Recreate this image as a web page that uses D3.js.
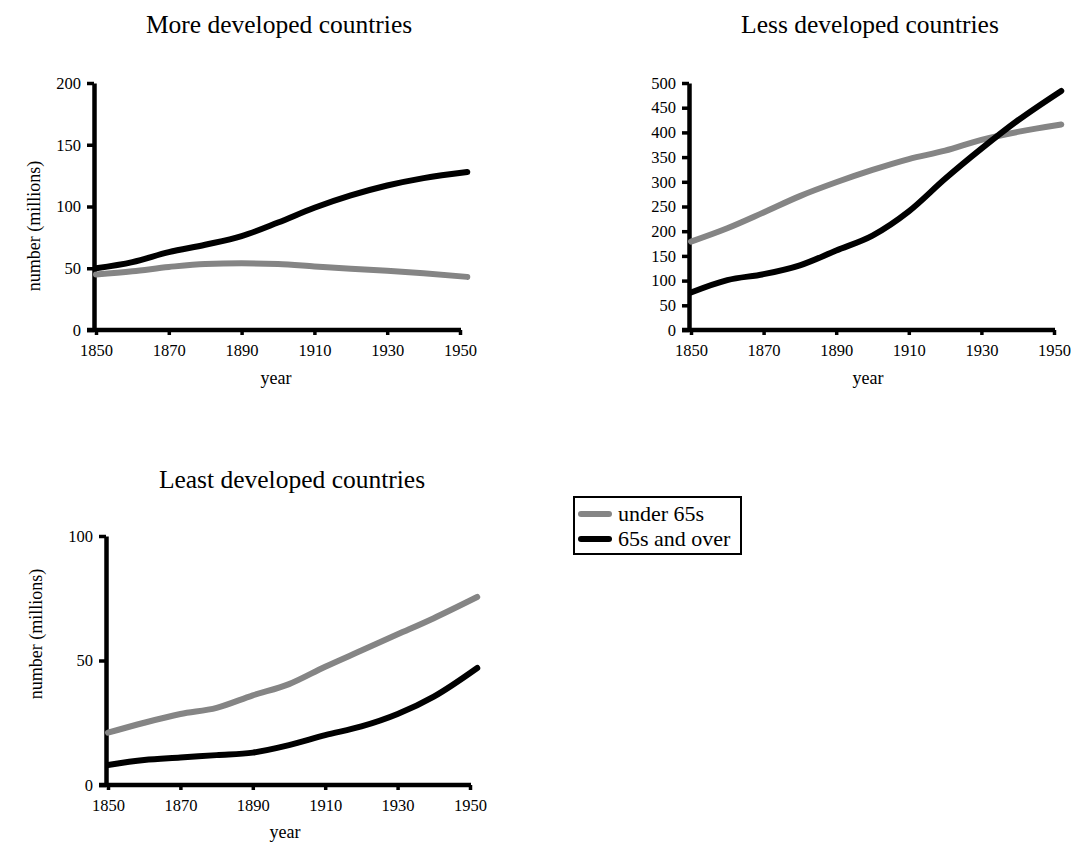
<!DOCTYPE html>
<html>
<head>
<meta charset="utf-8">
<script src="https://cdn.jsdelivr.net/npm/d3@7"></script>
<style>
  body { margin: 0; background: #fff; }
  svg { display: block; }
  text { font-family: "Liberation Serif", "Times New Roman", serif; fill: #000; }
</style>
</head>
<body>
<svg id="chart" width="1090" height="843"></svg>
<script>
// Sample years shared by all three panels
const years = [1850, 1860, 1870, 1880, 1890, 1900, 1910, 1920, 1930, 1940, 1952];
const xTicks = [1850, 1870, 1890, 1910, 1930, 1950];

// More developed countries (millions)
const moreUnder65 = [45, 47.5, 51, 53.5, 54, 53.5, 51.5, 49.5, 48, 46, 43];
const moreOver65  = [50, 55, 63, 69, 76, 87, 99, 109, 117, 123, 128];
const moreYTicks  = [0, 50, 100, 150, 200];

// Less developed countries (millions)
const lessUnder65 = [179, 206, 238, 271, 299, 324, 346, 363, 385, 401, 416];
const lessOver65  = [76, 101, 113, 131, 161, 191, 240, 306, 367, 424, 484];
const lessYTicks  = [0, 50, 100, 150, 200, 250, 300, 350, 400, 450, 500];

// Least developed countries (millions)
const leastUnder65 = [21, 25, 28.5, 31, 36, 40.5, 47.5, 54, 60.5, 67, 75.5];
const leastOver65  = [8, 10, 11, 12, 13, 16, 20, 23.5, 28.5, 35.5, 47];
const leastYTicks  = [0, 50, 100];

const seriesNames = ["under 65s", "65s and over"];
const seriesColors = ["#858585", "#000000"];

const FONT = "Liberation Serif, Times New Roman, serif";
const svg = d3.select("#chart");

function panel(cfg) {
  const x = d3.scaleLinear().domain([1850, 1950]).range([cfg.x0, cfg.x1]);
  const y = d3.scaleLinear().domain([0, cfg.yMax]).range([cfg.yBottom, cfg.yTop]);
  const g = svg.append("g");

  // panel title
  g.append("text")
    .attr("x", cfg.titleX).attr("y", cfg.titleY)
    .attr("text-anchor", "middle")
    .style("font-size", "25.5px")
    .text(cfg.title);

  // axes
  const yAxis = g.append("g")
    .attr("transform", `translate(${cfg.x0 - 2},0)`)
    .call(d3.axisLeft(y).tickValues(cfg.yTicks).tickSize(7).tickSizeOuter(0).tickPadding(6));
  const xAxis = g.append("g")
    .attr("transform", `translate(0,${cfg.yBottom})`)
    .call(d3.axisBottom(x).tickValues(xTicks).tickFormat(d3.format("d")).tickSize(5).tickSizeOuter(0).tickPadding(9));

  [yAxis, xAxis].forEach(a => {
    a.attr("font-family", FONT);
    a.select(".domain").attr("stroke", "#000").attr("stroke-width", 4.5);
    a.selectAll(".tick line").attr("stroke", "#000").attr("stroke-width", 3.5);
    a.selectAll(".tick text").attr("fill", "#000").style("font-size", "16.5px");
  });
  xAxis.select(".domain").attr("d", `M${cfg.x0 - 9},0H${cfg.x1 + 1}`);

  // axis titles
  g.append("text")
    .attr("x", cfg.yearX).attr("y", cfg.yearY)
    .attr("text-anchor", "middle")
    .style("font-size", "18px")
    .text("year");
  if (cfg.yTitle) {
    g.append("text")
      .attr("transform", `translate(${cfg.yTitleX},${cfg.yTitleY}) rotate(-90)`)
      .attr("text-anchor", "middle")
      .style("font-size", "18px")
      .text("number (millions)");
  }

  // series lines
  const line = d3.line()
    .x((d, i) => x(years[i]))
    .y(d => y(d))
    .curve(d3.curveMonotoneX);
  [cfg.under, cfg.over].forEach((vals, k) => {
    g.append("path")
      .datum(vals)
      .attr("fill", "none")
      .attr("stroke", seriesColors[k])
      .attr("stroke-width", 6)
      .attr("stroke-linecap", "round")
      .attr("stroke-linejoin", "round")
      .attr("d", line);
  });
}

panel({
  title: "More developed countries", titleX: 279, titleY: 33,
  x0: 96, x1: 460, yBottom: 330, yTop: 83, yMax: 200, yTicks: moreYTicks,
  under: moreUnder65, over: moreOver65,
  yearX: 276, yearY: 384, yTitle: true, yTitleX: 40, yTitleY: 226
});

panel({
  title: "Less developed countries", titleX: 870, titleY: 33,
  x0: 691, x1: 1054, yBottom: 330, yTop: 83, yMax: 500, yTicks: lessYTicks,
  under: lessUnder65, over: lessOver65,
  yearX: 868, yearY: 384, yTitle: false
});

panel({
  title: "Least developed countries", titleX: 292, titleY: 488,
  x0: 108, x1: 470, yBottom: 785, yTop: 536, yMax: 100, yTicks: leastYTicks,
  under: leastUnder65, over: leastOver65,
  yearX: 285, yearY: 838, yTitle: true, yTitleX: 42, yTitleY: 634
});

// legend
const legend = svg.append("g");
legend.append("rect")
  .attr("x", 574).attr("y", 497).attr("width", 167).attr("height", 57)
  .attr("fill", "#fff").attr("stroke", "#000").attr("stroke-width", 2);
seriesNames.forEach((name, i) => {
  const cy = 514 + i * 25;
  legend.append("line")
    .attr("x1", 581).attr("x2", 609).attr("y1", cy).attr("y2", cy)
    .attr("stroke", seriesColors[i]).attr("stroke-width", 6)
    .attr("stroke-linecap", "round");
  legend.append("text")
    .attr("x", 618).attr("y", cy + 7)
    .style("font-size", "22px")
    .text(name);
});
</script>
</body>
</html>
